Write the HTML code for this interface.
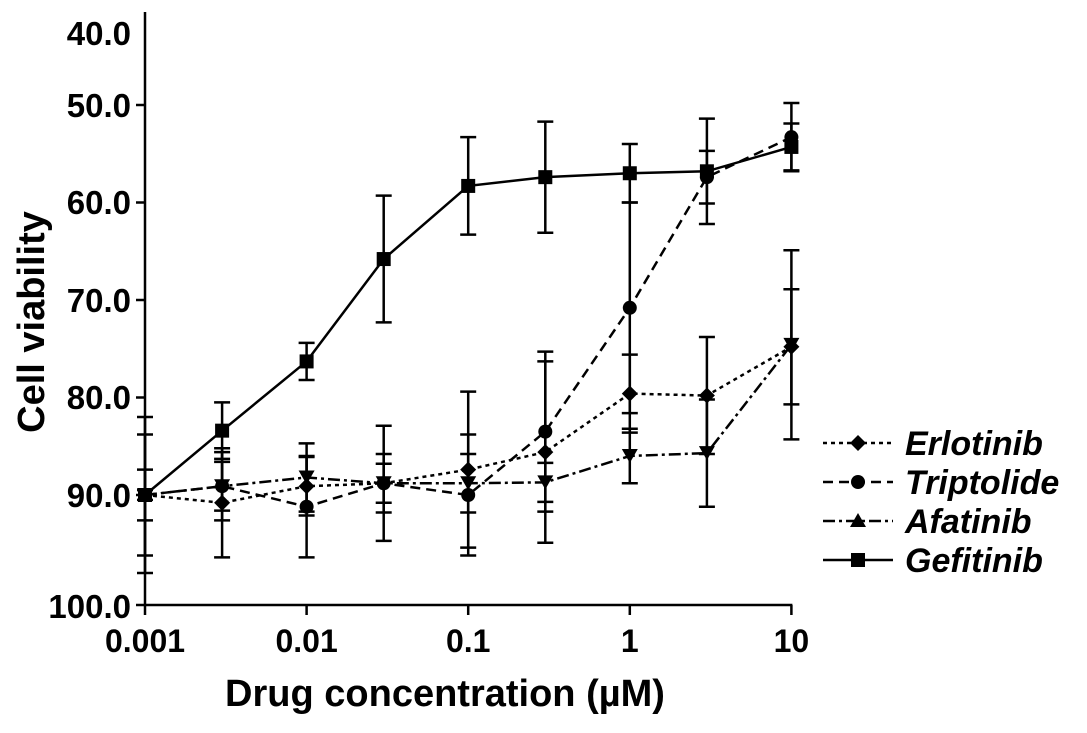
<!DOCTYPE html>
<html><head><meta charset="utf-8"><style>
body{margin:0;background:#fff;}
svg text{font-family:"Liberation Sans",Arial,sans-serif;font-weight:bold;fill:#000;}
</style></head><body>
<svg id="chart" width="1087" height="728" viewBox="0 0 1087 728" xmlns="http://www.w3.org/2000/svg">
<g id="axes"></g>
<g id="series"></g>
<g id="legend"></g>
</svg>
<script>
const concentrations = [0.001, 0.003, 0.01, 0.03, 0.1, 0.3, 1, 3, 10];
const seriesNames = ["Erlotinib", "Triptolide", "Afatinib", "Gefitinib"];
const erlotinibMean = [90, 90.8, 89.1, 88.8, 87.4, 85.6, 79.6, 79.8, 74.8];
const erlotinibSd   = [8.0, 5.6, 3.0, 5.9, 8.0, 9.3, 4.0, 6.0, 5.9];
const triptolideMean = [90, 89.1, 91.2, 88.8, 90.0, 83.5, 70.8, 57.4, 53.3];
const triptolideSd   = [6.2, 3.5, 5.2, 3.0, 6.2, 8.2, 10.8, 2.7, 3.5];
const afatinibMean = [90, 89.1, 88.2, 88.8, 88.8, 88.7, 86.0, 85.7, 74.6];
const afatinibSd   = [2.6, 2.5, 3.5, 2.0, 3.0, 2.0, 2.8, 5.5, 9.7];
const gefitinibMean = [90, 83.4, 76.3, 65.8, 58.3, 57.4, 57.0, 56.8, 54.3];
const gefitinibSd   = [0.5, 2.9, 1.9, 6.5, 5.0, 5.7, 3.0, 5.4, 2.4];
const yTickValues = [50, 60, 70, 80, 90, 100];
const yTickLabels = ["40.0", "50.0", "60.0", "70.0", "80.0", "90.0", "100.0"];
const xTickValues = [0.001, 0.01, 0.1, 1, 10];
const xTickLabels = ["0.001", "0.01", "0.1", "1", "10"];

const NS = "http://www.w3.org/2000/svg";
const X0 = 145, DEC = 161.6, AXY = 605;
function xs(c){ return X0 + (Math.log10(c) + 3) * DEC; }
function ys(v){ return v >= 100 ? AXY : 495 - (90 - v) * 9.75; }
function mk(tag, attrs, parent){ const e = document.createElementNS(NS, tag); for (const k in attrs) e.setAttribute(k, attrs[k]); parent.appendChild(e); return e; }

const axes = document.getElementById('axes');
let l = mk('line', {x1:X0, y1:12, x2:X0, y2:AXY, stroke:'#000','stroke-width':2.5}, axes);


l = mk('line', {x1:X0, y1:AXY, x2:xs(10)+1, y2:AXY, stroke:'#000','stroke-width':2.5}, axes);


yTickValues.forEach(v => {
  const t = mk('line', {x1:X0-9, y1:ys(v), x2:X0, y2:ys(v), stroke:'#000','stroke-width':2.5}, axes);
  
  
});
const yLabelY = [33, 105, 202, 300, 397, 495, 606];
yTickLabels.forEach((s, i) => {
  const t = mk('text', {x:131, y:yLabelY[i]+12, 'text-anchor':'end','font-size':33}, axes);
  t.textContent = s;
  
  
});
xTickValues.forEach((v, i) => {
  const t = mk('line', {x1:xs(v), y1:AXY, x2:xs(v), y2:AXY+10, stroke:'#000','stroke-width':2.5}, axes);
  
  
  const tl = mk('text', {x:xs(v), y:652, 'text-anchor':'middle','font-size':32}, axes);
  tl.textContent = xTickLabels[i];
  
  
});
let tt = mk('text', {x:445, y:706, 'text-anchor':'middle','font-size':38}, axes);
tt.textContent = "Drug concentration (µM)";


tt = mk('text', {x:0, y:0, 'text-anchor':'middle','font-size':38, transform:'translate(44,322) rotate(-90)'}, axes);
tt.textContent = "Cell viability";



const dashes = {Erlotinib:'4,4', Triptolide:'10,6', Afatinib:'12,4,3,4', Gefitinib:''};
function marker(name, cx, cy, g, legendShape){
  let m;
  if (name === 'Erlotinib') m = mk('polygon', {points:`${cx},${cy-8} ${cx+8},${cy} ${cx},${cy+8} ${cx-8},${cy}`, fill:'#000'}, g);
  else if (name === 'Triptolide') m = mk('circle', {cx:cx, cy:cy, r:7, fill:'#000'}, g);
  else if (name === 'Afatinib') m = legendShape
      ? mk('polygon', {points:`${cx},${cy-8} ${cx+8},${cy+6} ${cx-8},${cy+6}`, fill:'#000'}, g)
      : mk('polygon', {points:`${cx-8},${cy-7} ${cx+8},${cy-7} ${cx},${cy+7}`, fill:'#000'}, g);
  else m = mk('rect', {x:cx-7, y:cy-7, width:14, height:14, fill:'#000'}, g);
  return m;
}
const sg = document.getElementById('series');
const allMeans = [erlotinibMean, triptolideMean, afatinibMean, gefitinibMean];
const allSd = [erlotinibSd, triptolideSd, afatinibSd, gefitinibSd];
seriesNames.forEach((name, si) => {
  const g = mk('g', {}, sg);
  
  
  const mean = allMeans[si], sd = allSd[si];
  concentrations.forEach((c, i) => {
    const x = xs(c), y1 = ys(mean[i] - sd[i]), y2 = ys(mean[i] + sd[i]);
    const eb = mk('path', {d:`M${x},${y1}V${y2}M${x-8},${y1}H${x+8}M${x-8},${y2}H${x+8}`, stroke:'#000','stroke-width':2.5, fill:'none'}, g);
    
    
  });
  const pts = concentrations.map((c, i) => xs(c) + ',' + ys(mean[i])).join(' ');
  const pl = mk('polyline', {points:pts, fill:'none', stroke:'#000','stroke-width':2.5,'stroke-dasharray':dashes[name]}, g);
  
  
  concentrations.forEach((c, i) => {
    const m = marker(name, xs(c), ys(mean[i]), g, false);
    
    
  });
});
const lg = document.getElementById('legend');
const legY = [443, 482, 521, 560];
seriesNames.forEach((name, i) => {
  const g = mk('g', {}, lg);
  
  
  mk('line', {x1:823, y1:legY[i], x2:893, y2:legY[i], stroke:'#000','stroke-width':2.5,'stroke-dasharray':dashes[name]}, g);
  marker(name, 858, legY[i], g, true);
  const t = mk('text', {x:905, y:legY[i]+12, 'font-size':34,'font-style':'italic'}, g);
  t.textContent = name;
});
</script>
</body></html>
